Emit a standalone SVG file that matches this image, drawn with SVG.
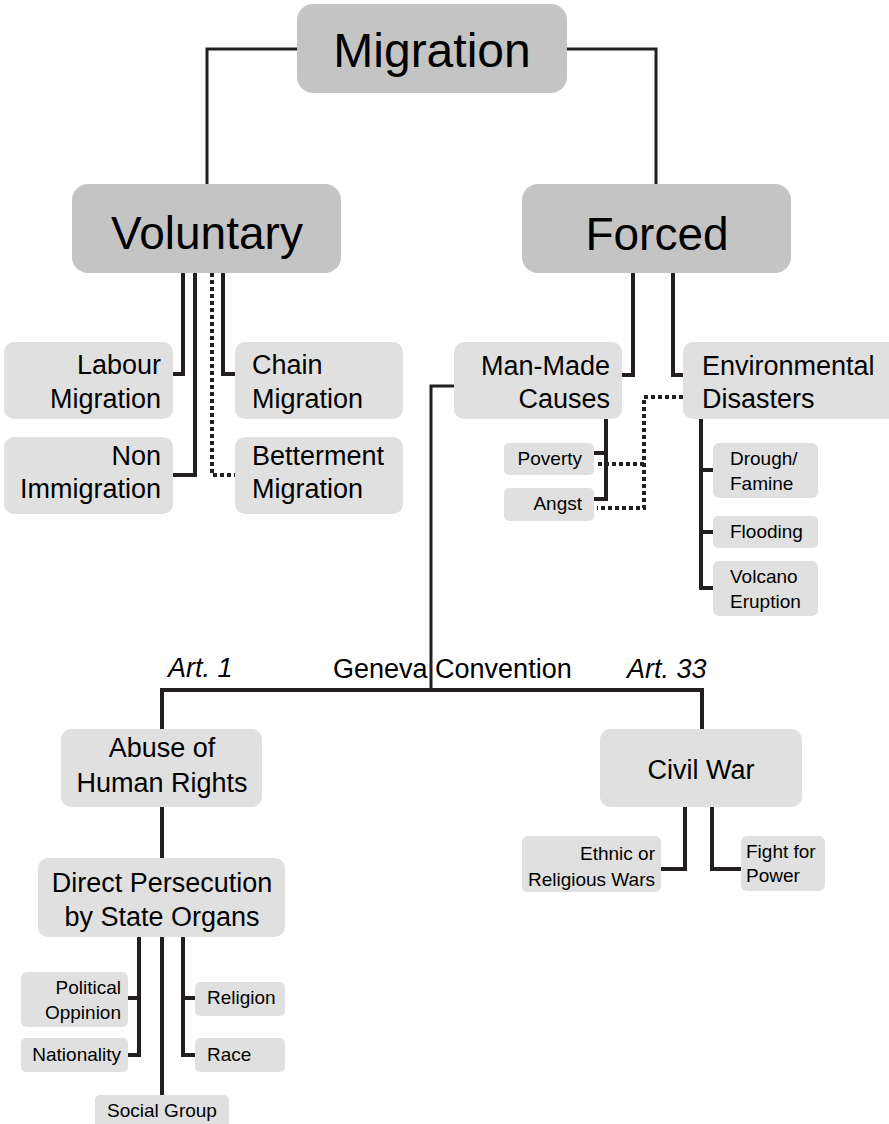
<svg xmlns="http://www.w3.org/2000/svg" width="889" height="1124" viewBox="0 0 889 1124">
<style>
.big{fill:#c4c4c4}
.box{fill:#e0e0e0}
text{font-family:"Liberation Sans",Arial,sans-serif;fill:#000}
.t48{font-size:48px}
.t46{font-size:46px}
.t27{font-size:27px}
.t19{font-size:19px}
.c{text-anchor:middle}
.r{text-anchor:end}
.it{font-style:italic}
.ln{fill:none;stroke:#231f20;stroke-width:4;stroke-linejoin:miter;stroke-linecap:butt}
.thin{stroke-width:3}
.dot{stroke-dasharray:4 3}
</style>
<rect width="889" height="1124" fill="#fff"/>
<g id="connectors">
<path class="ln thin" d="M297,49 H207 V184"/>
<path class="ln thin" d="M567,49 H656 V184"/>
<path class="ln" d="M183,273 V374 H173"/>
<path class="ln" d="M195,273 V475 H173"/>
<path class="ln" d="M223,273 V374 H235"/>
<path class="ln dot" d="M212,273 V475 H235"/>
<path class="ln" d="M633,273 V375 H622"/>
<path class="ln" d="M673,273 V375 H683"/>
<path class="ln thin" d="M454,386 H431 V690"/>
<path class="ln" d="M162,729 V690 H702 V729"/>
<path class="ln" d="M606,419 V499 H594 M606,453 H594"/>
<path class="ln dot" d="M683,397 H644 V508 H597 M644,464 H597"/>
<path class="ln" d="M701,419 V588 H713 M701,470 H713 M701,532 H713"/>
<path class="ln" d="M162,807 V858"/>
<path class="ln" d="M139,937 V1055 H128 M139,998 H128"/>
<path class="ln" d="M162,937 V1095"/>
<path class="ln" d="M183,937 V1055 H195 M183,998 H195"/>
<path class="ln" d="M685,807 V869 H661"/>
<path class="ln" d="M712,807 V869 H741"/>
</g>
<g id="migration"><rect class="big" x="297" y="4" width="270" height="89" rx="16"/><text class="t48 c" x="432" y="67">Migration</text></g>
<g id="voluntary"><rect class="big" x="72" y="184" width="269" height="89" rx="16"/><text class="t46 c" x="207" y="249">Voluntary</text></g>
<g id="forced"><rect class="big" x="522" y="184" width="269" height="89" rx="16"/><text class="t46 c" x="657" y="250">Forced</text></g>
<g id="labour"><rect class="box" x="4" y="342" width="169" height="77" rx="10"/><text class="t27 r" x="161" y="374">Labour</text><text class="t27 r" x="161" y="408">Migration</text></g>
<g id="non"><rect class="box" x="4" y="437" width="169" height="77" rx="10"/><text class="t27 r" x="161" y="465">Non</text><text class="t27 r" x="161" y="498">Immigration</text></g>
<g id="chain"><rect class="box" x="235" y="342" width="168" height="77" rx="10"/><text class="t27" x="252" y="374">Chain</text><text class="t27" x="252" y="408">Migration</text></g>
<g id="betterment"><rect class="box" x="235" y="437" width="168" height="77" rx="10"/><text class="t27" x="252" y="465">Betterment</text><text class="t27" x="252" y="498">Migration</text></g>
<g id="manmade"><rect class="box" x="454" y="342" width="168" height="77" rx="10"/><text class="t27 r" x="610" y="375">Man-Made</text><text class="t27 r" x="610" y="408">Causes</text></g>
<g id="environmental"><rect class="box" x="683" y="342" width="215" height="77" rx="10"/><text class="t27" x="702" y="375">Environmental</text><text class="t27" x="702" y="408">Disasters</text></g>
<g id="poverty"><rect class="box" x="504" y="443" width="90" height="32" rx="5"/><text class="t19 r" x="582" y="465">Poverty</text></g>
<g id="angst"><rect class="box" x="504" y="488" width="90" height="33" rx="5"/><text class="t19 r" x="582" y="510">Angst</text></g>
<g id="drought"><rect class="box" x="713" y="443" width="105" height="55" rx="6"/><text class="t19" x="730" y="465">Drough/</text><text class="t19" x="730" y="490">Famine</text></g>
<g id="flooding"><rect class="box" x="713" y="516" width="105" height="32" rx="5"/><text class="t19" x="730" y="538">Flooding</text></g>
<g id="volcano"><rect class="box" x="713" y="561" width="105" height="55" rx="6"/><text class="t19" x="730" y="583">Volcano</text><text class="t19" x="730" y="608">Eruption</text></g>
<g id="geneva"><text class="t27" x="333" y="678">Geneva Convention</text><text class="t27 it" x="168" y="677">Art. 1</text><text class="t27 it" x="627" y="678">Art. 33</text></g>
<g id="abuse"><rect class="box" x="61" y="729" width="201" height="78" rx="10"/><text class="t27 c" x="162" y="757">Abuse of</text><text class="t27 c" x="162" y="792">Human Rights</text></g>
<g id="direct"><rect class="box" x="38" y="858" width="247" height="79" rx="10"/><text class="t27 c" x="162" y="892">Direct Persecution</text><text class="t27 c" x="162" y="926">by State Organs</text></g>
<g id="political"><rect class="box" x="21" y="972" width="107" height="55" rx="6"/><text class="t19 r" x="121" y="994">Political</text><text class="t19 r" x="121" y="1019">Oppinion</text></g>
<g id="nationality"><rect class="box" x="21" y="1038" width="107" height="34" rx="5"/><text class="t19 r" x="121" y="1061">Nationality</text></g>
<g id="religion"><rect class="box" x="195" y="982" width="90" height="34" rx="5"/><text class="t19" x="207" y="1004">Religion</text></g>
<g id="race"><rect class="box" x="195" y="1038" width="90" height="34" rx="5"/><text class="t19" x="207" y="1061">Race</text></g>
<g id="social"><rect class="box" x="95" y="1095" width="134" height="40" rx="5"/><text class="t19 c" x="162" y="1117">Social Group</text></g>
<g id="civilwar"><rect class="box" x="600" y="729" width="202" height="78" rx="10"/><text class="t27 c" x="701" y="779">Civil War</text></g>
<g id="ethnic"><rect class="box" x="522" y="836" width="139" height="56" rx="6"/><text class="t19 r" x="655" y="860">Ethnic or</text><text class="t19 r" x="655" y="886">Religious Wars</text></g>
<g id="fight"><rect class="box" x="741" y="836" width="84" height="55" rx="6"/><text class="t19" x="746" y="858">Fight for</text><text class="t19" x="746" y="882">Power</text></g>
</svg>
